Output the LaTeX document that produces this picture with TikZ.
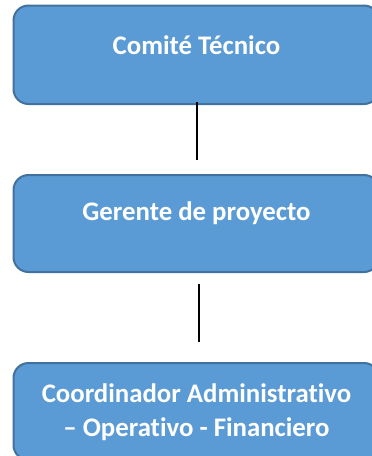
\documentclass[tikz,border=0pt]{standalone}
\usepackage{fontspec}
\setmainfont[Ligatures=NoCommon]{Carlito}
\definecolor{boxfill}{HTML}{5B9BD5}
\definecolor{boxline}{HTML}{41719C}
\tikzset{
  orgbox/.style={draw=boxline, line width=2pt, fill=boxfill, rounded corners=15pt,
    minimum width=365.5pt, inner sep=0pt, anchor=north west},
  orgtext/.style={text=white, font=\fontsize{26.8}{34}\selectfont\bfseries, align=center, inner sep=0pt},
  conn/.style={draw=black, line width=1.5pt}
}
\begin{document}
\begin{tikzpicture}[x=1pt,y=1pt]
\useasboundingbox (0,0) rectangle (372,-456);
\node[orgbox, minimum height=98.5pt] (b1) at (12.5,-4.5) {};
\node[orgbox, minimum height=97pt] (b2) at (12.5,-174) {};
\node[orgbox, minimum height=97pt] (b3) at (12.5,-362) {};
\node[orgtext] (t1) at (196.5,-45) {Comité Técnico};
\node[orgtext] (t2) at (196.5,-213) {Gerente de proyecto};
\node[orgtext] (t3) at (196.5,-412) {Coordinador Administrativo\\– Operativo - Financiero};
\coordinate (c1a) at (197,-102);
\coordinate (c1b) at (197,-160);
\coordinate (c2a) at (199,-284);
\coordinate (c2b) at (199,-342);
\draw[conn] (c1a) -- (c1b);
\draw[conn] (c2a) -- (c2b);
\end{tikzpicture}
\end{document}
